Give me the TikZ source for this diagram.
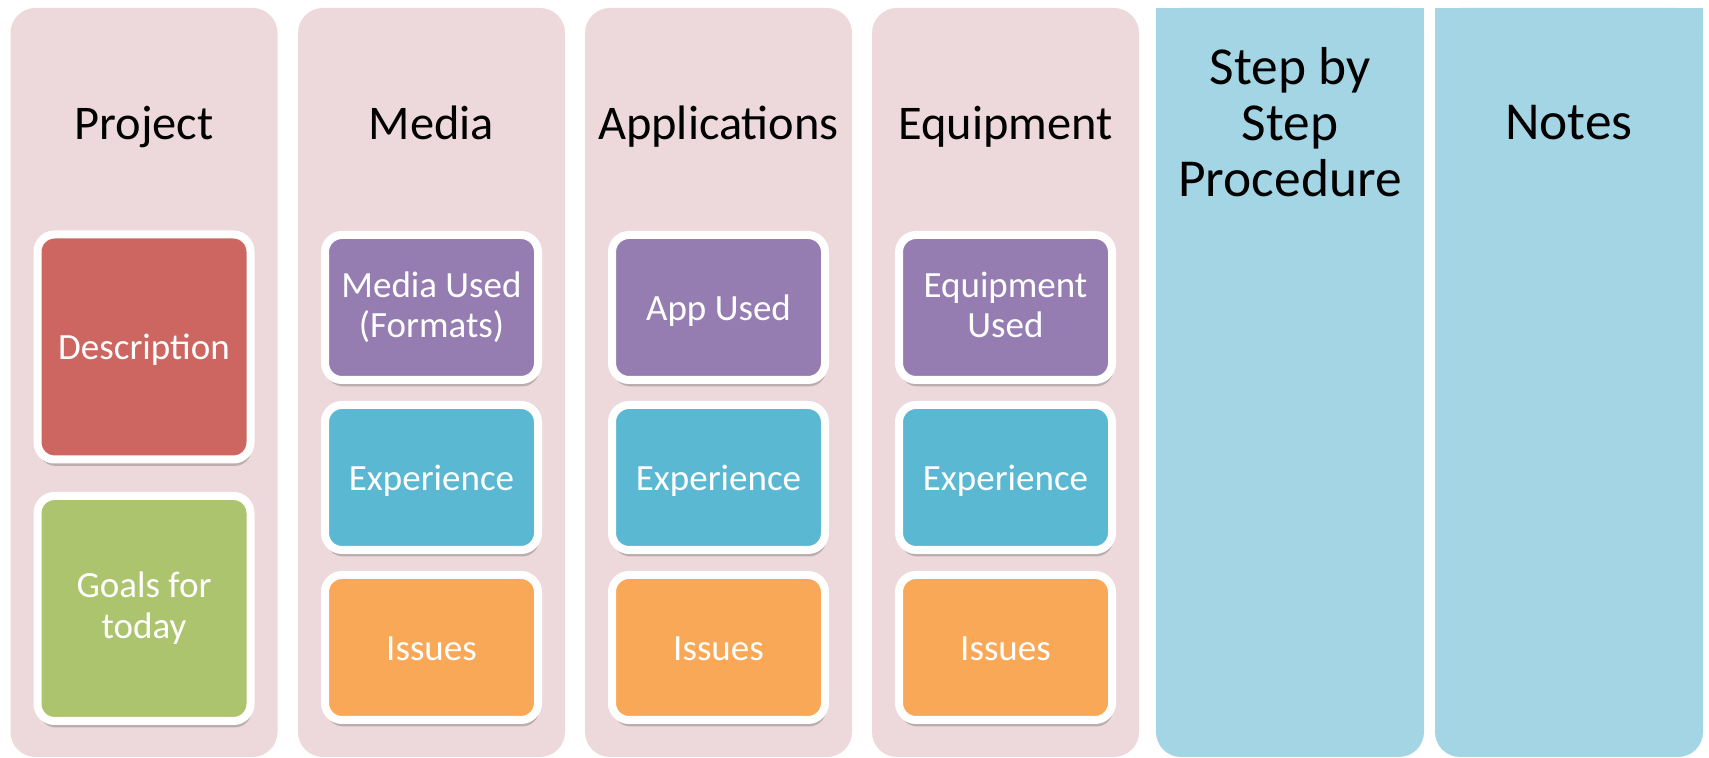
\documentclass[tikz,border=0pt]{standalone}
\usepackage{fontspec}
\setmainfont{Carlito}
\usetikzlibrary{shadows}
\definecolor{colpink}{HTML}{EDD9DB}
\definecolor{colblue}{HTML}{A3D5E4}
\definecolor{boxred}{HTML}{CD6660}
\definecolor{boxgreen}{HTML}{ACC46D}
\definecolor{boxpurple}{HTML}{957CB1}
\definecolor{boxcyan}{HTML}{5AB8D2}
\definecolor{boxorange}{HTML}{F9A857}
\begin{document}
\begin{tikzpicture}[x=0.5pt, y=-0.5pt,
  hdr/.style={font=\fontsize{24.2}{28.5}\selectfont, align=center, inner sep=0pt},
  bighdr/.style={hdr, font=\fontsize{26.7}{28}\selectfont},
  col/.style={rounded corners=12.5pt, minimum width=133.5pt, minimum height=374.5pt, inner sep=0pt},
  twoline/.style={execute at begin node={\rule[-0.15em]{0pt}{1.17em}}}]
\tikzstyle{box}=[draw=white, line width=4pt, rounded corners=8.5pt, minimum width=106.5pt,
  inner sep=0pt, text=white, align=center, font=\fontsize{18.5}{20.4}\selectfont,
  execute at begin node={\rule[-0.15em]{0pt}{1em}},
  drop shadow={shadow xshift=0.6pt, shadow yshift=-3.2pt, opacity=0.3, fill=black!70}]
\useasboundingbox (0,0) rectangle (1709,758);
\foreach \i/\x/\t in {P/144/Project,M/431.5/Media,A/718.5/Applications,E/1005.5/Equipment}{
  \node[col, fill=colpink] (\i) at (\x,382.5) {};
  \node[hdr, anchor=base] (\i h) at (\x,140) {\t};}
\foreach \i/\x in {S/1290,N/1569}{
  \node[col, fill=colblue, minimum width=134pt] (\i) at (\x,382.5) {};
  \fill[colblue] (\i.north west) rectangle ([yshift=-50pt]\i.north east);}
\node[bighdr] (Sh) at (1290,122) {Step by\\Step\\Procedure};
\node[bighdr, anchor=base] (Nh) at (1569,140) {Notes};
\node[box, fill=boxred, minimum height=112.5pt] (P1) at (144,347) {Description};
\node[box, twoline, fill=boxgreen, minimum height=112.5pt] (P2) at (144,608.5) {Goals for\\today};
\foreach \i/\x/\t/\s in {M/431.5/{Media Used\\(Formats)}/twoline,A/718.5/{App Used}/{},E/1005.5/{Equipment\\Used}/twoline}{
  \node[box, \s, fill=boxpurple, minimum height=72.5pt] (\i1) at (\x,307.5) {\t};
  \node[box, fill=boxcyan, minimum height=72.5pt] (\i2) at (\x,477.5) {Experience};
  \node[box, fill=boxorange, minimum height=72.5pt] (\i3) at (\x,647.5) {Issues};}
\end{tikzpicture}
\end{document}
